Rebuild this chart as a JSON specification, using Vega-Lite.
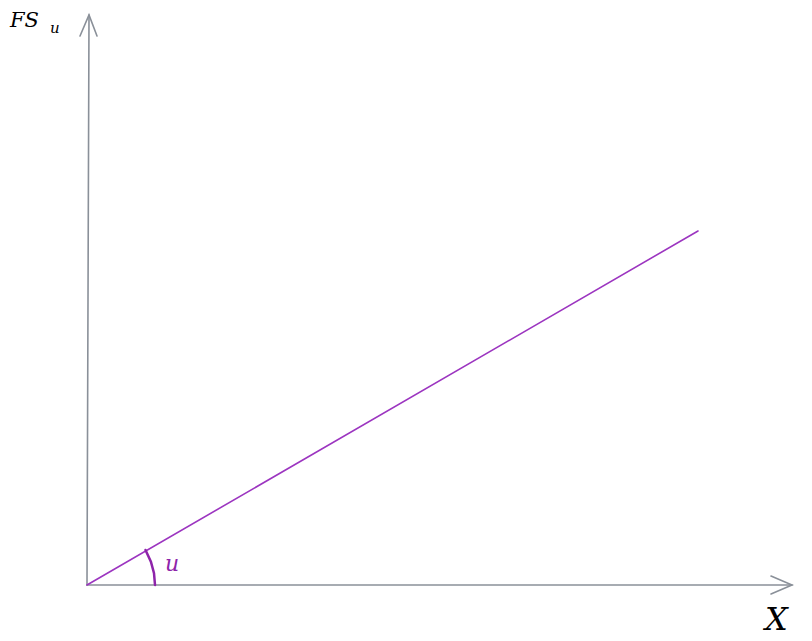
{
  "$schema": "https://vega.github.io/schema/vega-lite/v6.json",
  "width": 812, "height": 641,
  "autosize": {"type": "fit", "contains": "padding"},
  "padding": 0,
  "background": "white",
  "config": {"view": {"stroke": null}},
  "datasets": {
    "lines": [
      {"part": "yaxis", "o": 1, "x": 0, "y": 0},
      {"part": "yaxis", "o": 2, "x": 2, "y": 570},
      {"part": "yarrow", "o": 1, "x": -7, "y": 549},
      {"part": "yarrow", "o": 2, "x": 2, "y": 570},
      {"part": "yarrow", "o": 3, "x": 10, "y": 549},
      {"part": "xaxis", "o": 1, "x": 0, "y": 0},
      {"part": "xaxis", "o": 2, "x": 705, "y": 0},
      {"part": "xarrow", "o": 1, "x": 684, "y": 9},
      {"part": "xarrow", "o": 2, "x": 705, "y": 0},
      {"part": "xarrow", "o": 3, "x": 684, "y": -9},
      {"part": "fs", "o": 1, "x": 0, "y": 0},
      {"part": "fs", "o": 2, "x": 611, "y": 354},
      {"part": "arc", "o": 1, "x": 58.5, "y": 35},
      {"part": "arc", "o": 2, "x": 63.9, "y": 23.3},
      {"part": "arc", "o": 3, "x": 67, "y": 11.8},
      {"part": "arc", "o": 4, "x": 68, "y": 0}
    ],
    "labels": [
      {"t": "FS", "x": -77, "y": 564, "s": 21, "c": "black"},
      {"t": "u", "x": -37, "y": 557, "s": 15, "c": "black"},
      {"t": "X", "x": 678, "y": -35, "s": 32, "c": "black"},
      {"t": "u", "x": 78, "y": 21, "s": 22, "c": "#8e24aa"}
    ]
  },
  "layer": [
    {
      "data": {"name": "lines"},
      "mark": {"type": "line", "strokeCap": "round"},
      "encoding": {
        "x": {"field": "x", "type": "quantitative", "scale": {"domain": [-87, 725], "nice": false, "zero": false}, "axis": null},
        "y": {"field": "y", "type": "quantitative", "scale": {"domain": [-56, 585], "nice": false, "zero": false}, "axis": null},
        "detail": {"field": "part"},
        "order": {"field": "o"},
        "color": {
          "field": "part", "legend": null,
          "scale": {"domain": ["yaxis", "yarrow", "xaxis", "xarrow", "fs", "arc"],
                    "range": ["#8a9099", "#8a9099", "#8a9099", "#8a9099", "#9c35c0", "#8e24aa"]}
        },
        "strokeWidth": {"condition": {"test": "datum.part === 'arc'", "value": 2.5}, "value": 1.6}
      }
    },
    {
      "data": {"name": "labels"},
      "mark": {"type": "text", "font": "DejaVu Serif", "fontStyle": "italic", "align": "left", "baseline": "middle"},
      "encoding": {
        "x": {"field": "x", "type": "quantitative"},
        "y": {"field": "y", "type": "quantitative"},
        "text": {"field": "t"},
        "size": {"field": "s", "type": "quantitative", "scale": null},
        "color": {"field": "c", "type": "nominal", "scale": null}
      }
    }
  ]
}
